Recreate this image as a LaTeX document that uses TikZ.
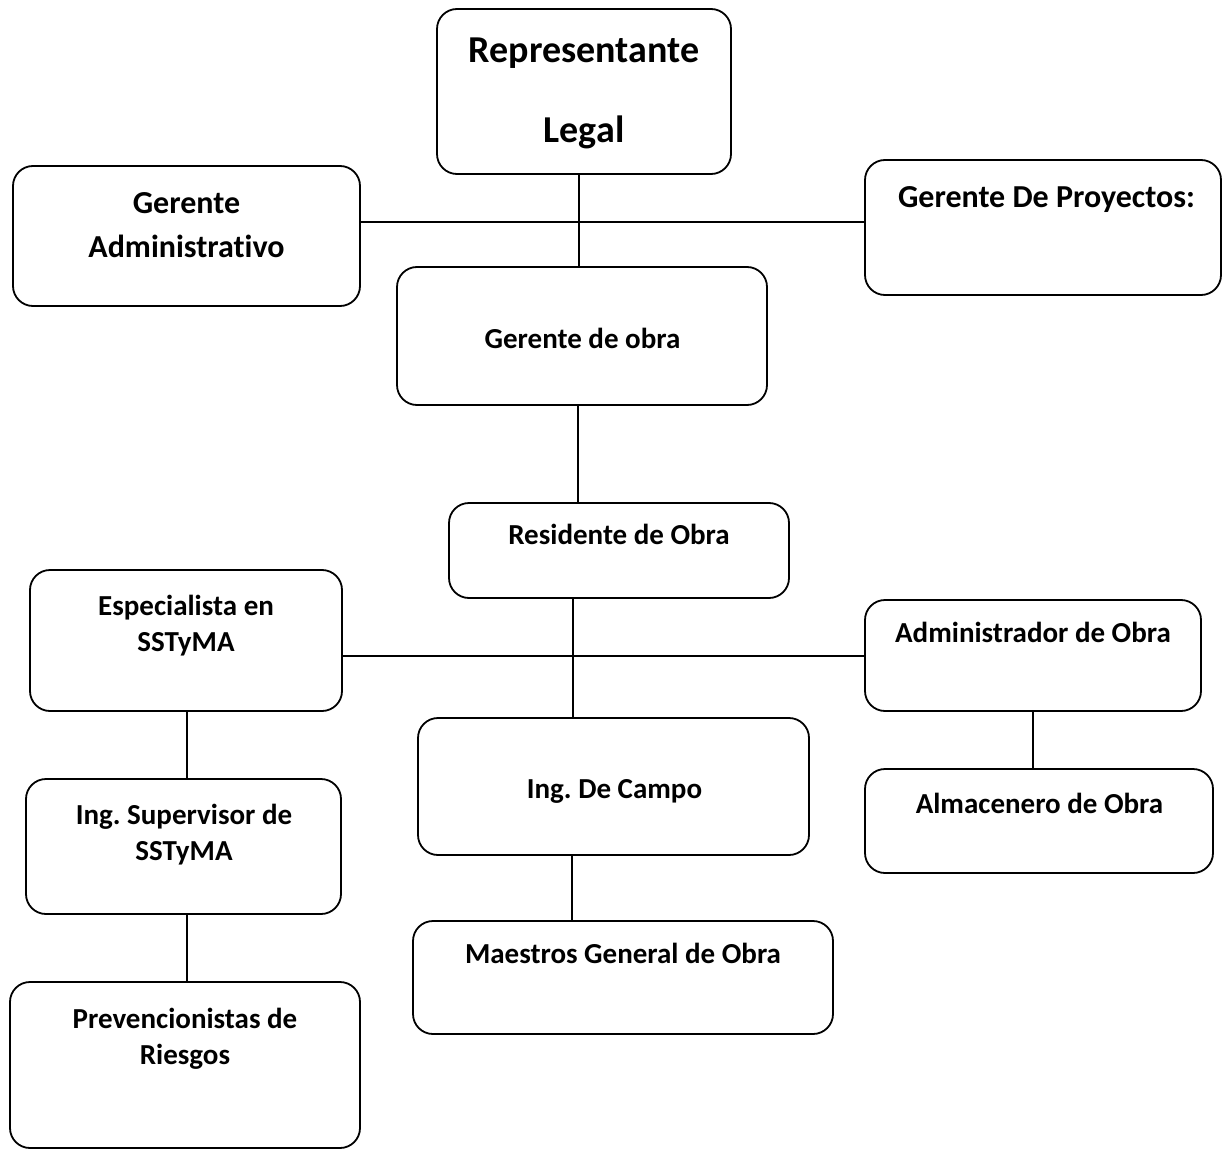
\documentclass[tikz,border=0pt]{standalone}
\usepackage{fontspec}
\setmainfont{Carlito}[Ligatures=NoCommon]
\frenchspacing
\begin{document}
\begin{tikzpicture}[x=1pt,y=-1pt,
  box/.style={draw=black,line width=1.8pt,rounded corners=20pt,inner sep=0pt,outer sep=0pt},
  lbl/.style={anchor=base,inner sep=0pt,font=\fontsize{29}{34}\selectfont\bfseries},
  midlbl/.style={anchor=base,inner sep=0pt,font=\fontsize{32}{38}\selectfont\bfseries},
  biglbl/.style={anchor=base,inner sep=0pt,font=\fontsize{38}{44}\selectfont\bfseries},
  conn/.style={draw=black,line width=1.8pt}]
\useasboundingbox (0,0) rectangle (1223,1150);
% boxes
\node[box,minimum width=294pt,minimum height=165pt] (rl) at (584,91.5) {};
\node[box,minimum width=347pt,minimum height=140pt] (ga) at (186.5,236) {};
\node[box,minimum width=356pt,minimum height=135pt] (gp) at (1043,227.5) {};
\node[box,minimum width=370pt,minimum height=138pt] (go) at (582,336) {};
\node[box,minimum width=340pt,minimum height=95pt] (ro) at (619,550.5) {};
\node[box,minimum width=312pt,minimum height=141pt] (es) at (186,640.5) {};
\node[box,minimum width=336pt,minimum height=111pt] (ad) at (1033,655.5) {};
\node[box,minimum width=391pt,minimum height=137pt] (ic) at (613.5,786.5) {};
\node[box,minimum width=348pt,minimum height=104pt] (al) at (1039,821) {};
\node[box,minimum width=315pt,minimum height=135pt] (is) at (183.5,846.5) {};
\node[box,minimum width=420pt,minimum height=113pt] (mg) at (623,977.5) {};
\node[box,minimum width=350pt,minimum height=166pt] (pr) at (185,1065) {};
% labels
\node[biglbl] (t1a) at (584,63) {Representante};
\node[biglbl] (t1b) at (584,143) {Legal};
\node[midlbl] (t2a) at (186.5,214) {Gerente};
\node[midlbl] (t2b) at (186.5,258) {Administrativo};
\node[midlbl] (t3) at (1046.5,208) {Gerente De Proyectos:};
\node[lbl] (t4) at (582.5,348) {Gerente de obra};
\node[lbl] (t5) at (619,544) {Residente de Obra};
\node[lbl] (t6a) at (186,615) {Especialista en};
\node[lbl] (t6b) at (186,651) {SSTyMA};
\node[lbl] (t7) at (1033,642) {Administrador de Obra};
\node[lbl] (t8) at (614.5,798) {Ing. De Campo};
\node[lbl] (t9) at (1039.5,813) {Almacenero de Obra};
\node[lbl] (t10a) at (184,824) {Ing. Supervisor de};
\node[lbl] (t10b) at (184,860) {SSTyMA};
\node[lbl] (t11) at (623,963) {Maestros General de Obra};
\node[lbl] (t12a) at (185,1028) {Prevencionistas de};
\node[lbl] (t12b) at (185,1064) {Riesgos};
% junction coordinates
\coordinate (j1) at (579,222);
\coordinate (c2) at (578,0);
\coordinate (j2) at (573,656);
\coordinate (c187) at (187,0);
\coordinate (c1033) at (1033,0);
\coordinate (c572) at (572,0);
% connectors
\draw[conn] (rl.south -| j1) -- (go.north -| j1);
\draw[conn] (ga.east |- j1) -- (gp.west |- j1);
\draw[conn] (go.south -| c2) -- (ro.north -| c2);
\draw[conn] (ro.south -| j2) -- (ic.north -| j2);
\draw[conn] (es.east |- j2) -- (ad.west |- j2);
\draw[conn] (es.south -| c187) -- (is.north -| c187);
\draw[conn] (is.south -| c187) -- (pr.north -| c187);
\draw[conn] (ad.south -| c1033) -- (al.north -| c1033);
\draw[conn] (ic.south -| c572) -- (mg.north -| c572);
\end{tikzpicture}
\end{document}
